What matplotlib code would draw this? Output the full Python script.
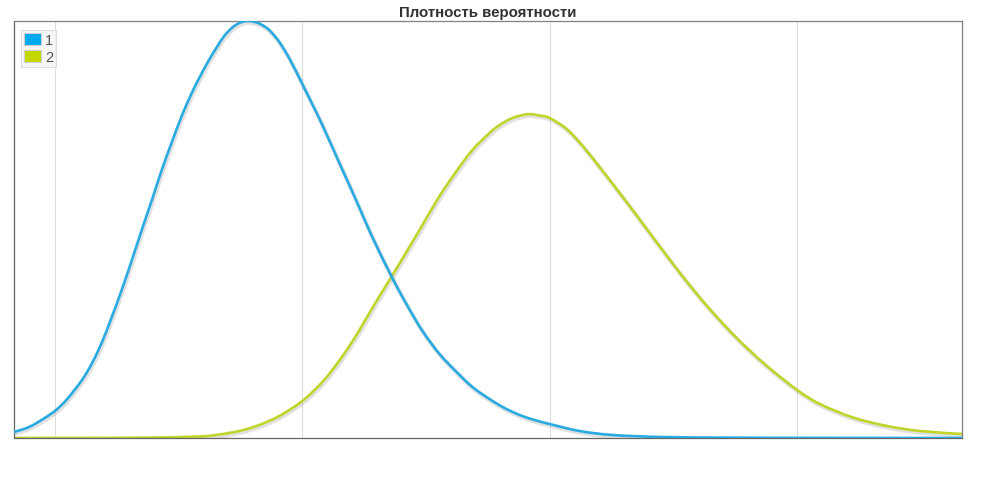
import numpy as np
import matplotlib
matplotlib.use("Agg")
import matplotlib.pyplot as plt
import matplotlib.patheffects as pe
from matplotlib.patches import Patch, PathPatch
from matplotlib.path import Path

plt.rcParams['font.family'] = ['Liberation Sans', 'DejaVu Sans']

title = "Плотность вероятности"
labels = ["1", "2"]

# curve 1 (blue)
x1 = [0.834, 0.895, 0.955, 1.004, 1.049, 1.109, 1.150, 1.190, 1.231, 1.271,
      1.312, 1.352, 1.393, 1.433, 1.474, 1.514, 1.551, 1.583, 1.619, 1.652,
      1.684, 1.717, 1.745, 1.773, 1.802, 1.834, 1.866, 1.907, 1.951, 2.000,
      2.040, 2.081, 2.150, 2.219, 2.283, 2.360, 2.421, 2.486, 2.555, 2.624,
      2.688, 2.757, 2.818, 2.879, 2.939, 3.000, 3.121, 3.255, 3.458, 3.769,
      4.215, 4.668]
y1 = [1.44, 2.64, 4.68, 6.71, 9.35, 13.91, 17.99, 23.02, 29.26, 35.73,
      42.92, 50.12, 57.31, 64.51, 71.22, 77.46, 82.49, 86.33, 90.28, 93.52,
      96.40, 98.44, 99.52, 100.0, 99.86, 99.16, 97.84, 94.96, 90.64, 84.89,
      80.09, 75.06, 65.94, 56.83, 48.20, 38.85, 32.13, 25.66, 20.14, 15.83,
      12.23, 9.35, 7.19, 5.52, 4.32, 3.36, 1.68, 0.72, 0.24, 0.07,
      0.02, 0.0]

# curve 2 (yellow-green)
x2 = [0.834, 1.178, 1.381, 1.583, 1.664, 1.745, 1.826, 1.907, 2.000, 2.081,
      2.150, 2.219, 2.283, 2.360, 2.421, 2.486, 2.555, 2.624, 2.688, 2.757,
      2.798, 2.850, 2.911, 2.960, 3.000, 3.069, 3.134, 3.202, 3.271, 3.336,
      3.417, 3.498, 3.579, 3.660, 3.741, 3.822, 3.903, 4.004, 4.093, 4.227,
      4.365, 4.498, 4.668]
y2 = [0.0, 0.03, 0.10, 0.36, 0.84, 1.68, 3.12, 5.28, 8.87, 13.43,
      18.58, 24.70, 31.17, 38.61, 44.60, 51.08, 58.03, 64.03, 69.06, 73.14,
      75.06, 76.74, 77.65, 77.34, 76.74, 74.10, 70.03, 64.99, 59.71, 54.67,
      48.20, 41.85, 35.73, 30.09, 24.94, 20.26, 16.07, 11.39, 8.15, 4.92,
      2.88, 1.68, 0.96]

grid_x = [1, 2, 3, 4]

blue = "#29abe2"
green = "#c0d52a"


def curve_path(xs, ys):
    # smooth stroke through the read points (Catmull-Rom as cubic Bezier)
    p = np.column_stack([xs, ys])
    pts = np.vstack([p[0], p, p[-1]])
    verts = [p[0]]
    codes = [Path.MOVETO]
    for i in range(1, len(pts) - 2):
        c1 = pts[i] + (pts[i + 1] - pts[i - 1]) / 6
        c2 = pts[i + 1] - (pts[i + 2] - pts[i]) / 6
        verts += [c1, c2, pts[i + 1]]
        codes += [Path.CURVE4] * 3
    return Path(verts, codes)


fig = plt.figure(figsize=(9.9, 4.81), dpi=100)
ax = fig.add_axes([14/990, 1 - 439/481, (962 - 14)/990, (439 - 22)/481])

shadow = [pe.SimpleLineShadow(offset=(0.7, -1.3), shadow_color="#888888", alpha=0.25, linewidth=3.0),
          pe.Normal()]
ax.add_patch(PathPatch(curve_path(x2, y2), fill=False, edgecolor=green, lw=1.9,
                       path_effects=shadow, zorder=2))
ax.add_patch(PathPatch(curve_path(x1, y1), fill=False, edgecolor=blue, lw=1.9,
                       path_effects=shadow, zorder=3))

ax.set_xlim(0.834, 4.668)
ax.set_ylim(0, 100)
ax.set_xticks(grid_x)
ax.set_xticklabels([])
ax.set_yticks([])
ax.tick_params(length=0)
ax.grid(axis='x', color="#dddddd", lw=0.8)
ax.set_axisbelow(True)
for s in ax.spines.values():
    s.set_color("#808080")
    s.set_linewidth(0.9)
ax.spines['left'].set_color("#666666")
ax.spines['bottom'].set_color("#666666")

ax.set_title(title, fontsize=10.8, fontweight='bold', color="#333333", pad=3.5)

handles = [Patch(facecolor="#00a8ee", edgecolor="#d0d0d0", lw=0.8),
           Patch(facecolor="#c4d800", edgecolor="#d0d0d0", lw=0.8)]
leg = ax.legend(handles, labels, loc='upper left', bbox_to_anchor=(0.004, 0.985),
                fontsize=10.5, frameon=True, fancybox=False, borderpad=0.2,
                handlelength=1.2, handleheight=0.85, handletextpad=0.25,
                labelspacing=0.2, borderaxespad=0.2)
leg.get_frame().set_edgecolor("#d6d6d6")
leg.get_frame().set_facecolor("#f6f6f6")
leg.get_frame().set_linewidth(0.8)
for t in leg.get_texts():
    t.set_color("#555555")

fig.savefig("out.png", dpi=100)
